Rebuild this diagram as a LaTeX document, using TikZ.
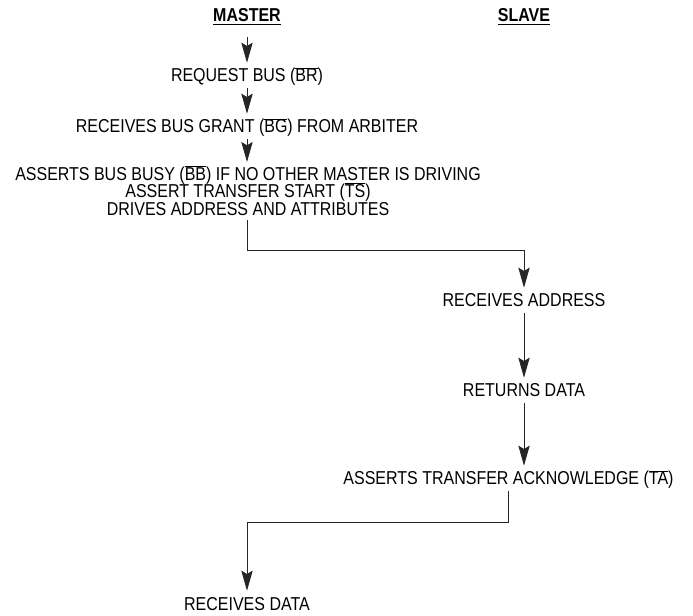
\documentclass[tikz,border=0pt]{standalone}
\usepackage{fontspec}
\setmainfont{Liberation Sans}[FakeStretch=0.857]
\usetikzlibrary{arrows.meta,positioning}
\newlength{\sigwd}
\newcommand{\negsig}[1]{\settowidth{\sigwd}{#1}\rlap{\smash{\rule[10.3pt]{\sigwd}{0.5pt}}}#1}

\begin{document}
\begin{tikzpicture}[x=0.75pt,y=-0.75pt,
    lbl/.style={font=\fontsize{14}{13.1}\selectfont, inner sep=0pt, outer sep=4.5pt,
        text height=10pt, text depth=0pt, anchor=base},
    blk/.style={font={\fontsize{14}{13.1}\selectfont\lineskiplimit=-5pt}, inner sep=0pt,
        outer sep=3.5pt, align=center, anchor=north},
    head/.style={font=\fontsize{14}{16}\selectfont\bfseries, inner sep=0pt, anchor=base},
    arr/.style={-{Stealth[length=15pt,width=8.5pt,inset=2.5pt]}, line width=0.75pt, draw=black!85}]
    \useasboundingbox (0,0) rectangle (693,616);
    % column titles
    \node[head] (master) at (247,22) {\underline{MASTER}};
    \node[head] (slave) at (524,22) {\underline{SLAVE}};
    % master side
    \coordinate (start) at (247,37);
    \node[lbl] (req) at (247,82) {REQUEST BUS (\negsig{BR})};
    \node[lbl] (grant) at (247,133) {RECEIVES BUS GRANT (\negsig{BG}) FROM ARBITER};
    \node[blk] (busy) at (248,162) {ASSERTS BUS BUSY (\negsig{BB}) IF NO OTHER MASTER IS DRIVING\\
        ASSERT TRANSFER START (\negsig{TS})\\
        DRIVES ADDRESS AND ATTRIBUTES};
    % slave side
    \node[lbl] (addr) at (524,307) {RECEIVES ADDRESS};
    \node[lbl] (ret) at (524,397) {RETURNS DATA};
    \node[lbl] (ack) at (508.5,485) {ASSERTS TRANSFER ACKNOWLEDGE (\negsig{TA})};
    % back to master
    \node[lbl] (rdata) at (247,610) {RECEIVES DATA};
    \coordinate (bend1) at (247,251);
    \coordinate (bend2) at (247,523);
    % arrows
    \draw[arr] (start) -- (req.north -| start);
    \draw[arr] (req.south -| start) -- (grant.north -| start);
    \draw[arr] (grant.south -| start) -- (busy.north -| start);
    \draw[arr] (busy.south -| bend1) -- (bend1) -| (addr.north);
    \draw[arr] (addr.south) -- (ret.north);
    \draw[arr] (ret.south) -- (ret.south |- ack.north);
    \draw[arr] (ack.south) |- (bend2) -- (rdata.north);
\end{tikzpicture}
\end{document}
